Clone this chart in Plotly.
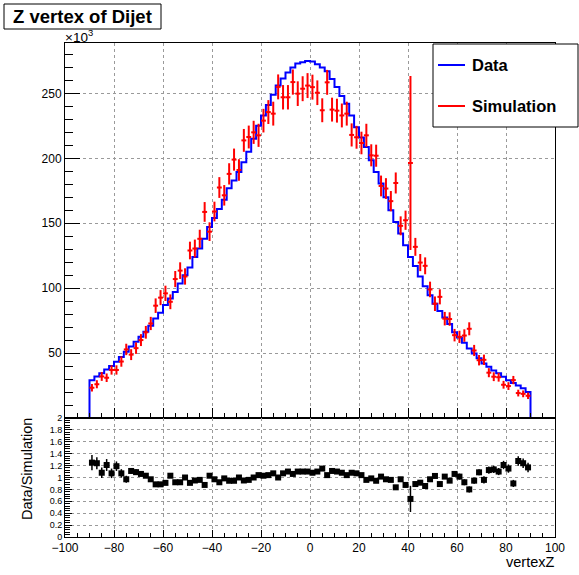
import numpy as np
import plotly.graph_objects as go

W, H = 579, 575

# ---------------- data (counts in units of 10^3) ----------------
hist_lo, hist_hi, bin_w = -90, 90, 2          # filled bins
axis_lo, axis_hi = -100, 100                   # histogram / axis range

data_k = [29, 32, 34.4, 37.4, 40, 43.3, 47, 51, 55, 58.7,
          62.5, 66.4, 71, 76.7, 81, 87, 92, 97, 103.6, 110,
          116, 124, 130.5, 138, 147, 154, 161, 168, 177, 183,
          189.5, 197, 205, 215, 225, 233, 241, 249, 256, 261.5,
          266, 270, 273, 274, 275, 274.5, 272.5, 270, 267, 261,
          255, 248, 242, 233, 224, 216, 208.7, 198.5, 189.5, 180.5,
          170, 160, 151, 142, 133, 124, 117, 109, 101.5, 94.6,
          88, 82.5, 77.4, 72.3, 66, 62, 58, 53.6, 49.7, 46,
          42, 39.5, 36.5, 34.4, 31.8, 29, 27, 25, 23, 20]

sim_k = [23.3, 26, 32, 31, 37, 37, 43.5, 52.8, 48.8, 53.8,
         60, 66, 72.8, 86.5, 92.7, 96, 89.5, 107, 113.5, 109,
         129, 130.5, 138, 158.7, 143.5, 159, 177.5, 171.5, 188, 199,
         191, 213.8, 216.4, 220, 217.7, 229, 235.6, 234.4, 255, 247,
         247, 258.7, 249.8, 253.6, 256, 254.8, 250.5, 237, 258.5, 237.5,
         236.7, 233, 234.4, 218, 216.2, 211.8, 217.7, 202.3, 202, 178.7,
         176.7, 167, 181, 148, 152.3, 196.4, 131.8, 119.7, 117.2, 99,
         88, 93.3, 76.5, 76.2, 63.8, 62.5, 63.5, 68.7, 52, 44.5,
         44.8, 34.9, 31.8, 31.4, 25.6, 24.6, 29.2, 19.2, 18.6, 17.1]

sim_err_k = [2.9, 3.1, 3.4, 3.3, 3.6, 3.6, 4.0, 4.4, 4.2, 4.4,
             4.6, 4.9, 5.1, 5.6, 5.8, 5.9, 5.7, 6.2, 6.4, 6.3,
             6.8, 6.9, 7.0, 7.6, 7.2, 7.6, 8.0, 7.9, 8.2, 8.5,
             8.3, 8.8, 8.8, 8.9, 8.9, 9.1, 9.2, 9.2, 9.6, 9.4,
             9.4, 9.7, 9.5, 9.6, 9.6, 9.6, 9.5, 9.2, 9.6, 9.2,
             9.2, 9.2, 9.2, 8.9, 8.8, 8.7, 8.9, 8.5, 8.5, 8.0,
             8.0, 7.8, 8.1, 7.3, 7.4, 67, 6.9, 6.6, 6.5, 6.0,
             5.6, 5.8, 5.2, 5.2, 4.8, 4.7, 4.8, 5.0, 4.3, 4.0,
             4.0, 3.5, 3.4, 3.4, 3.0, 3.0, 3.2, 2.6, 2.6, 2.5]

ratio = [1.25, 1.24, 1.08, 1.21, 1.07, 1.19, 1.07, 0.97, 1.11, 1.09,
         1.06, 1.03, 0.97, 0.885, 0.885, 0.91, 1.03, 0.92, 0.92, 1.0,
         0.91, 0.95, 0.96, 0.875, 1.03, 0.97, 0.92, 0.985, 0.945, 0.945,
         1.0, 0.95, 0.96, 1.0, 1.04, 1.03, 1.04, 1.07, 1.0, 1.07,
         1.1, 1.06, 1.1, 1.1, 1.1, 1.08, 1.1, 1.15, 1.04, 1.11,
         1.1, 1.08, 1.04, 1.08, 1.07, 1.04, 0.96, 0.985, 0.945, 1.015,
         0.97, 0.96, 0.835, 0.97, 0.875, 0.64, 0.89, 0.913, 0.857, 0.97,
         1.026, 0.89, 1.015, 0.947, 1.06, 1.015, 0.92, 0.8, 0.947, 1.087,
         0.96, 1.125, 1.136, 1.1, 1.21, 1.15, 0.9, 1.277, 1.24, 1.17]

ratio_err = [0.13, 0.1, 0.09, 0.1, 0.08, 0.08, 0.07, 0.06, 0.05, 0.05,
             0.04, 0.04, 0.04, 0.04, 0.035, 0.035, 0.035, 0.03, 0.03, 0.03,
             0.03, 0.03, 0.03, 0.03, 0.03, 0.03, 0.03, 0.03, 0.03, 0.03,
             0.03, 0.03, 0.03, 0.03, 0.03, 0.03, 0.03, 0.03, 0.03, 0.03,
             0.03, 0.03, 0.03, 0.03, 0.03, 0.03, 0.03, 0.03, 0.03, 0.03,
             0.03, 0.03, 0.03, 0.03, 0.03, 0.03, 0.03, 0.03, 0.03, 0.03,
             0.03, 0.03, 0.04, 0.04, 0.04, 0.22, 0.04, 0.04, 0.04, 0.04,
             0.04, 0.04, 0.04, 0.04, 0.04, 0.05, 0.05, 0.05, 0.05, 0.05,
             0.06, 0.06, 0.06, 0.06, 0.07, 0.07, 0.06, 0.08, 0.08, 0.08]

x_ticks = [-100, -80, -60, -40, -20, 0, 20, 40, 60, 80, 100]
y_ticks = [0, 50, 100, 150, 200, 250]
y_tick_text = ["", "50", "100", "150", "200", "250"]
r_ticks = [0, 0.2, 0.4, 0.6, 0.8, 1, 1.2, 1.4, 1.6, 1.8, 2]
r_tick_text = ["0", "0.2", "0.4", "0.6", "0.8", "1", "1.2", "1.4", "1.6", "1.8", "2"]
y_max = 288.8

# ---------------- derived geometry ----------------
centers = np.arange(hist_lo + bin_w / 2, hist_hi, bin_w)
n_pad_lo = int((hist_lo - axis_lo) / bin_w)
n_pad_hi = int((axis_hi - hist_hi) / bin_w)
full_vals = [0] * n_pad_lo + list(data_k) + [0] * n_pad_hi
edges = np.arange(axis_lo, axis_hi + bin_w / 2, bin_w)
step_x = list(edges)
step_y = full_vals + [full_vals[-1]]


def fx(p):
    return p / W


def fy(p):
    return 1 - p / H


FONT = "Liberation Sans, Arial, Helvetica, sans-serif"
L, R = 65, 555
TOP, MID, BOT = 43, 418, 537

fig = go.Figure()

fig.add_trace(go.Scatter(
    x=step_x, y=step_y, mode="lines", line=dict(color="#0000ff", width=2, shape="hv"),
    showlegend=False, xaxis="x", yaxis="y", hoverinfo="skip"))

fig.add_trace(go.Scatter(
    x=centers, y=sim_k, mode="markers",
    marker=dict(color="#ff0000", size=1),
    error_x=dict(type="constant", value=bin_w / 2, color="#ff0000", thickness=2, width=0),
    error_y=dict(type="data", array=sim_err_k, color="#ff0000", thickness=2, width=0),
    showlegend=False, xaxis="x", yaxis="y"))

fig.add_trace(go.Scatter(
    x=centers, y=ratio, mode="markers",
    marker=dict(color="black", size=6, symbol="square"),
    error_y=dict(type="data", array=ratio_err, color="black", thickness=1.5, width=0),
    showlegend=False, xaxis="x2", yaxis="y2"))

common_x = dict(range=[axis_lo, axis_hi], domain=[fx(L), fx(R)], tickmode="array",
                tickvals=x_ticks, ticks="inside", showline=True, mirror=True,
                linecolor="black", linewidth=1, zeroline=False, showgrid=True,
                gridcolor="#9a9a9a", griddash="dot", gridwidth=1, tickcolor="black",
                automargin=False)

fig.update_layout(
    width=W, height=H, autosize=False, showlegend=False,
    margin=dict(l=0, r=0, t=0, b=0, pad=0, autoexpand=False),
    paper_bgcolor="white", plot_bgcolor="white",
    font=dict(family=FONT, color="black"),
    xaxis=dict(common_x, anchor="y", showticklabels=False, ticklen=10,
               minor=dict(tickmode="linear", tick0=axis_lo, dtick=5, ticks="inside",
                          ticklen=5, tickcolor="black", showgrid=False)),
    yaxis=dict(range=[0, y_max], domain=[fy(MID), fy(TOP)], tickmode="array",
               tickvals=y_ticks, ticktext=y_tick_text, ticks="inside", ticklen=15,
               tickcolor="black", showline=True, mirror=True, linecolor="black",
               zeroline=False, showgrid=True, gridcolor="#9a9a9a", griddash="dot",
               tickfont=dict(size=12), anchor="x", automargin=False,
               minor=dict(tickmode="linear", tick0=0, dtick=10, ticks="inside",
                          ticklen=8, tickcolor="black", showgrid=False)),
    xaxis2=dict(common_x, anchor="y2", showticklabels=True, ticklen=7,
                tickfont=dict(size=12),
                minor=dict(tickmode="linear", tick0=axis_lo, dtick=5, ticks="inside",
                           ticklen=4, tickcolor="black", showgrid=False)),
    yaxis2=dict(range=[0, 2], domain=[fy(BOT), fy(MID)], tickmode="array",
                tickvals=r_ticks, ticktext=r_tick_text, ticks="inside", ticklen=7,
                tickcolor="black", showline=True, mirror=True, linecolor="black",
                zeroline=False, showgrid=True, gridcolor="#9a9a9a", griddash="dot",
                tickfont=dict(size=9), anchor="x2", automargin=False,
                minor=dict(tickmode="linear", tick0=0, dtick=0.04, ticks="inside",
                           ticklen=5, tickcolor="black", showgrid=False)),
)

shapes = []
# title box
shapes.append(dict(type="rect", xref="paper", yref="paper", x0=fx(4), x1=fx(161),
                   y0=fy(29), y1=fy(4), line=dict(color="black", width=1),
                   fillcolor="white"))
# legend box
shapes.append(dict(type="rect", xref="paper", yref="paper", x0=fx(433), x1=fx(578),
                   y0=fy(127), y1=fy(44), line=dict(color="black", width=1),
                   fillcolor="white"))
shapes.append(dict(type="line", xref="paper", yref="paper", x0=fx(438), x1=fx(465),
                   y0=fy(65), y1=fy(65), line=dict(color="#0000ff", width=2)))
shapes.append(dict(type="line", xref="paper", yref="paper", x0=fx(438), x1=fx(465),
                   y0=fy(106), y1=fy(106), line=dict(color="#ff0000", width=2)))
fig.update_layout(shapes=shapes)

ann = []
ann.append(dict(text="<b>Z vertex of Dijet</b>", xref="paper", yref="paper",
                x=fx(11), y=fy(16.5), xanchor="left", yanchor="middle",
                showarrow=False, font=dict(size=18.5, family=FONT)))
ann.append(dict(text="<b>Data</b>", xref="paper", yref="paper",
                x=fx(470), y=fy(65), xanchor="left", yanchor="middle",
                showarrow=False, font=dict(size=16.5, family=FONT)))
ann.append(dict(text="<b>Simulation</b>", xref="paper", yref="paper",
                x=fx(470), y=fy(106.5), xanchor="left", yanchor="middle",
                showarrow=False, font=dict(size=16.5, family=FONT)))
ann.append(dict(text="×10<sup>3</sup>", xref="paper", yref="paper",
                x=fx(63), y=fy(36), xanchor="left", yanchor="middle",
                showarrow=False, font=dict(size=13.5, family=FONT)))
ann.append(dict(text="vertexZ", xref="paper", yref="paper",
                x=fx(556), y=fy(562), xanchor="right", yanchor="middle",
                showarrow=False, font=dict(size=14.5, family=FONT)))
ann.append(dict(text="Data/Simulation", xref="paper", yref="paper",
                x=fx(27), y=fy(469), xanchor="center", yanchor="middle",
                textangle=-90, showarrow=False, font=dict(size=14.5, family=FONT)))
fig.update_layout(annotations=ann)

fig.write_html("out.html")
